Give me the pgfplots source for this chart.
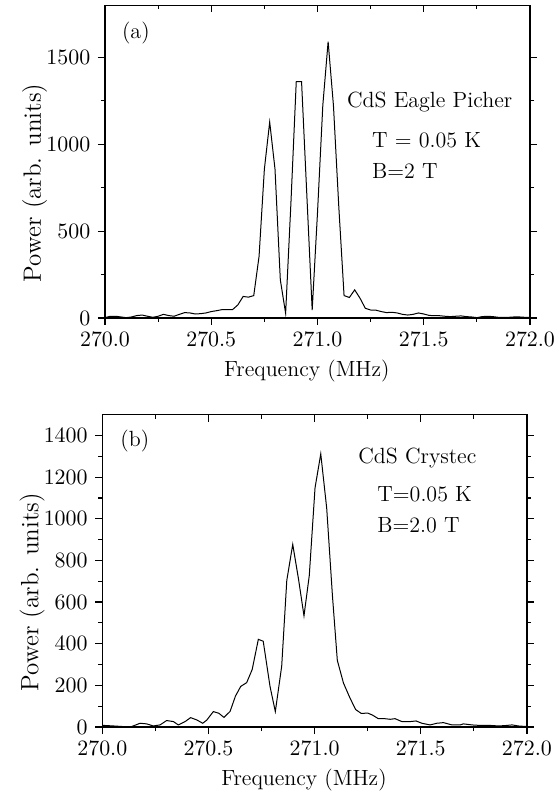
\documentclass[border=0pt]{standalone}
\usepackage{pgfplots}
\pgfplotsset{compat=1.18}
\pgfplotstableread{
f P
270.000 2
270.025 10
270.050 10
270.075 6
270.100 2
270.125 6
270.150 14
270.175 17
270.200 10
270.225 4
270.250 10
270.275 21
270.300 14
270.325 10
270.350 21
270.375 31
270.400 29
270.425 23
270.450 25
270.475 29
270.500 37
270.525 42
270.550 48
270.575 48
270.600 48
270.625 75
270.650 124
270.675 120
270.700 129
270.725 355
270.750 857
270.775 1128
270.800 857
270.825 220
270.850 27
270.875 664
270.900 1360
270.925 1360
270.950 703
270.975 46
271.000 606
271.025 1224
271.050 1591
271.075 1224
271.100 645
271.125 129
271.150 118
271.175 162
271.200 114
271.225 56
271.250 46
271.275 45
271.300 37
271.325 31
271.350 33
271.375 29
271.400 21
271.425 17
271.450 21
271.475 29
271.500 23
271.525 15
271.550 13
271.575 13
271.600 10
271.625 8
271.650 10
271.675 12
271.700 8
271.725 6
271.750 2
271.775 8
271.800 10
271.825 8
271.850 4
271.875 4
271.900 4
271.925 6
271.950 6
271.975 4
272.000 4
}\dataA
\pgfplotstableread{
f P
270.000 8
270.052 5
270.099 2
270.138 2
270.178 18
270.209 15
270.240 5
270.272 10
270.303 31
270.335 26
270.358 10
270.390 26
270.416 45
270.445 34
270.473 18
270.492 33
270.523 74
270.549 66
270.573 46
270.602 75
270.627 148
270.652 195
270.680 213
270.706 276
270.735 421
270.758 412
270.790 195
270.815 74
270.845 292
270.869 704
270.897 877
270.924 712
270.950 534
270.975 728
271.002 1148
271.029 1312
271.057 1051
271.084 631
271.107 320
271.136 211
271.165 143
271.193 84
271.220 65
271.250 67
271.273 57
271.300 40
271.330 40
271.356 37
271.379 40
271.411 26
271.450 26
271.478 29
271.505 18
271.544 10
271.576 18
271.607 21
271.647 10
271.686 10
271.701 15
271.741 10
271.772 8
271.820 8
271.867 5
271.899 7
271.930 10
271.960 5
272.000 2
}\dataB
\begin{document}
\fontsize{11}{13}\selectfont
\begin{tikzpicture}[font=\fontsize{11}{13}\selectfont]
\useasboundingbox (0,0) rectangle (278.5pt,396.5pt);
\pgfplotsset{
  base/.style={
    scale only axis, xmin=270, xmax=272, ymin=0,
    xtick={270,270.5,271,271.5,272}, minor x tick num=1,
    scaled x ticks=false, scaled y ticks=false,
    major tick length=3.5pt, minor tick length=2pt,
    axis line style={line width=0.6pt}, every tick/.style={line width=0.6pt, black},
    tick label style={font=\fontsize{11}{13}\selectfont},
  },
  main/.style={base,
    xtick pos=bottom, ytick pos=both, tick align=outside,
    xticklabel style={/pgf/number format/.cd, fixed, fixed zerofill, precision=1, 1000 sep={}},
    yticklabel style={/pgf/number format/.cd, fixed, 1000 sep={}},
    xlabel={Frequency (MHz)},
    xlabel style={at={(axis description cs:0.475,0)}, anchor=base, yshift=-29.3pt, font=\fontsize{11}{13}\selectfont},
    ylabel={Power (arb. units)},
    ylabel style={at={(axis description cs:-0.1506,0.432)}, anchor=base, font=\fontsize{12.5}{14}\selectfont},
  },
  topticks/.style={base, xtick pos=top, tick align=inside, ytick=\empty, xticklabels={}, axis line style={draw=none}},
}
% ---------- panel (a)
\begin{axis}[main, at={(52.5pt,237.5pt)}, anchor=south west, width=212.5pt, height=156.35pt,
  ymax=1800, ytick={0,500,1000,1500}, minor y tick num=1]
\addplot[black, line width=0.5pt] table[x=f, y=P] {\dataA};
\end{axis}
\begin{axis}[topticks, at={(52.5pt,237.5pt)}, anchor=south west, width=212.5pt, height=156.35pt, ymax=1800]
\end{axis}
% ---------- panel (b)
\begin{axis}[main, at={(51.15pt,33pt)}, anchor=south west, width=212.3pt, height=156.15pt,
  ymax=1500, ytick={0,200,...,1400}, minor y tick num=1]
\addplot[black, line width=0.5pt] table[x=f, y=P] {\dataB};
\end{axis}
\begin{axis}[topticks, at={(51.15pt,33pt)}, anchor=south west, width=212.3pt, height=156.15pt, ymax=1500]
\end{axis}
% ---------- annotations
\node[anchor=base west, inner sep=0pt] at (60.85pt,377pt) {(a)};
\node[anchor=base west, inner sep=0pt] at (173.35pt,342.65pt) {CdS Eagle Picher};
\node[anchor=base west, inner sep=0pt] at (185.85pt,322.85pt) {T = 0.05 K};
\node[anchor=base west, inner sep=0pt] at (185.85pt,307.35pt) {B=2 T};
\node[anchor=base west, inner sep=0pt] at (60pt,173.15pt) {(b)};
\node[anchor=base west, inner sep=0pt] at (179pt,164.5pt) {CdS Crystec};
\node[anchor=base west, inner sep=0pt] at (188.5pt,145.5pt) {T=0.05 K};
\node[anchor=base west, inner sep=0pt] at (188.5pt,130pt) {B=2.0 T};
\end{tikzpicture}
\end{document}
